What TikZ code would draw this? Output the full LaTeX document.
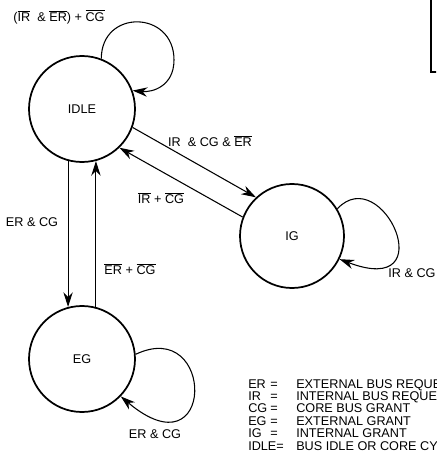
\documentclass[tikz,border=0pt]{standalone}
\usepackage{fontspec}
\setmainfont{Liberation Sans}
\usetikzlibrary{arrows.meta,positioning}
\newcommand{\ovl}[1]{$\overline{\mbox{#1}}$}

\begin{document}
\begin{tikzpicture}[
  x=0.75pt, y=-0.75pt,
  state/.style={circle, draw, line width=1.3pt, minimum size=79.5pt,
                inner sep=0pt, font=\fontsize{9.5}{11}\selectfont},
  lbl/.style={font=\fontsize{9.5}{11}\selectfont, inner sep=1pt},
  keytext/.style={font=\fontsize{9.5}{11}\selectfont, inner sep=0pt,
                  anchor=base west},
  edge/.style={draw, line width=0.8pt,
               -{Stealth[length=11pt, width=7pt, inset=3.5pt]}},
]
  \useasboundingbox (0,0) rectangle (436,459);
  \clip (0,0) rectangle (436,459);

  % ===== States =====
  \node[state] (idle) at (82,109) {IDLE};
  \node[state, minimum size=78pt] (ig) at (292,236) {IG};
  \node[state] (eg) at (82,359) {EG};

  % ===== Box cut by the right border =====
  \draw[line width=1.4pt] (431,-5) rectangle (460,72);

  % ===== Self loops =====
  \coordinate (idleloop) at (174,60);
  \draw[edge] (idle.69) .. controls +(0,-50) and +(0,-50) .. (idleloop)
        .. controls +(0,26) and +(20,2) .. (idle.20);
  \draw[edge] (ig.31) .. controls +(45,-48) and +(105,40) .. (ig.-26);
  \draw[edge] (eg.5) .. controls +(80,-38) and +(95,80) .. (eg.-44);

  % ===== Transitions =====
  \draw[edge] (idle.-20) -- (ig.133);
  \draw[edge] (ig.159) -- (idle.-46);
  \draw[edge] (idle.-105) -- (eg.105);
  \draw[edge] (eg.75) -- (idle.-75);

  % ===== Conditions =====
  \node[lbl] (loopidle) at (59,17) {(\ovl{IR}\ \ \& \ovl{ER}) + \ovl{CG}};
  \node[lbl] (toig) at (210,141) {IR\ \ \& CG \& \ovl{ER}};
  \node[lbl] (fromig) at (161,198) {\ovl{IR} + \ovl{CG}};
  \node[lbl] (toeg) at (32,222) {ER \& CG};
  \node[lbl] (fromeg) at (130,269) {\ovl{ER} + \ovl{CG}};
  \node[lbl] (loopig) at (412,273) {IR \& CG};
  \node[lbl] (loopeg) at (155,434) {ER \& CG};

  % ===== Legend =====
  \foreach \key/\eqs/\txt [count=\i] in {
      ER/=/EXTERNAL BUS REQUE,
      IR/=/INTERNAL BUS REQUE,
      CG/=/CORE BUS GRANT,
      EG/=/EXTERNAL GRANT,
      IG/=/INTERNAL GRANT,
      IDLE=//BUS IDLE OR CORE CY} {
    \node[keytext] (key\i) at (248,{388+12.4*(\i-1)}) {\key};
    \node[keytext] (eq\i) at (270,{388+12.4*(\i-1)}) {\eqs};
    \node[keytext] (txt\i) at (296,{388+12.4*(\i-1)}) {\txt};
  }
\end{tikzpicture}
\end{document}
